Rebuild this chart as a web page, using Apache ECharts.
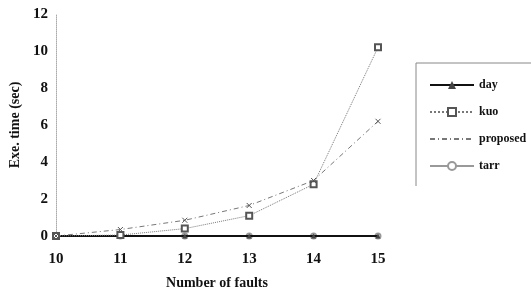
<!DOCTYPE html>
<html>
<head>
<meta charset="utf-8">
<script src="https://cdn.jsdelivr.net/npm/echarts@6/dist/echarts.min.js"></script>
<style>
  html, body { margin: 0; padding: 0; background: #fff; }
  #chart { width: 531px; height: 298px; }
</style>
</head>
<body>
<div id="chart"></div>
<script>
// values
const faults = [10, 11, 12, 13, 14, 15];
const day = [0, 0, 0, 0, 0, 0];
const kuo = [0, 0.05, 0.4, 1.1, 2.8, 10.2];
const proposed = [0, 0.35, 0.85, 1.65, 3.0, 6.2];
const tarr = [0, 0, 0, 0, 0, 0];
const yTicks = [0, 2, 4, 6, 8, 10, 12];

const FONT = "Liberation Serif";

function pairs(vals) {
    const out = [];
    for (let i = 0; i < faults.length; i++) {
        out.push([faults[i], vals[i]]);
    }
    return out;
}

const chart = echarts.init(document.getElementById("chart"));

const option = {
    backgroundColor: "#fff",
    animation: false,
    grid: {left: 56, right: 153, top: 14, bottom: 62, outerBoundsMode: "none", containLabel: false},
    xAxis: {
        type: "value",
        min: 10, max: 15, interval: 1,
        name: "Number of faults",
        nameLocation: "middle",
        nameGap: 40,
        nameTextStyle: {fontFamily: FONT, fontWeight: "bold", fontSize: 14, color: "#111"},
        axisLine: {show: false},
        axisTick: {show: false},
        splitLine: {show: false},
        axisLabel: {fontFamily: FONT, fontWeight: "bold", fontSize: 15, color: "#111", margin: 16}
    },
    yAxis: {
        type: "value",
        min: 0, max: 12, interval: 2,
        name: "Exe. time (sec)",
        nameLocation: "middle",
        nameGap: 32,
        nameTextStyle: {fontFamily: FONT, fontWeight: "bold", fontSize: 14, color: "#111"},
        axisLine: {show: true, lineStyle: {color: "#aaa", width: 1, type: "dotted"}},
        axisTick: {show: false},
        splitLine: {show: false},
        axisLabel: {
            fontFamily: FONT, fontWeight: "bold", fontSize: 15, color: "#111", margin: 8,
            formatter: function (v) { return yTicks.indexOf(v) >= 0 ? String(v) : ""; }
        }
    },
    legend: {
        left: 424,
        top: 74,
        orient: "vertical",
        itemGap: 15,
        itemWidth: 44,
        itemHeight: 10,
        textStyle: {fontFamily: FONT, fontWeight: "bold", fontSize: 12, color: "#111"},
        data: ["day", "kuo", "proposed", "tarr"]
    },
    graphic: [
        {type: "line", shape: {x1: 416, y1: 63, x2: 531, y2: 63}, style: {stroke: "#888", lineWidth: 1}},
        {type: "line", shape: {x1: 416, y1: 63, x2: 416, y2: 186}, style: {stroke: "#888", lineWidth: 1}}
    ],
    series: [
        {
            name: "day", type: "line", data: pairs(day),
            symbol: "triangle", symbolSize: 5,
            lineStyle: {color: "#111", width: 2},
            itemStyle: {color: "#444"},
            z: 3
        },
        {
            name: "kuo", type: "line", data: pairs(kuo),
            symbol: "emptyRect", symbolSize: 6,
            lineStyle: {color: "#777", width: 1, type: "dotted"},
            itemStyle: {color: "#555", borderColor: "#555"}
        },
        {
            name: "proposed", type: "line", data: pairs(proposed),
            symbol: "path://M0,0L10,10M10,0L0,10", symbolSize: 5,
            lineStyle: {color: "#777", width: 1, type: [5, 3, 1, 3]},
            itemStyle: {color: "#555", borderColor: "#555"}
        },
        {
            name: "tarr", type: "line", data: pairs(tarr),
            symbol: "emptyCircle", symbolSize: 5,
            lineStyle: {color: "#999", width: 2},
            itemStyle: {color: "#999", borderColor: "#999"},
            z: 2
        }
    ]
};

chart.setOption(option);
</script>
</body>
</html>
